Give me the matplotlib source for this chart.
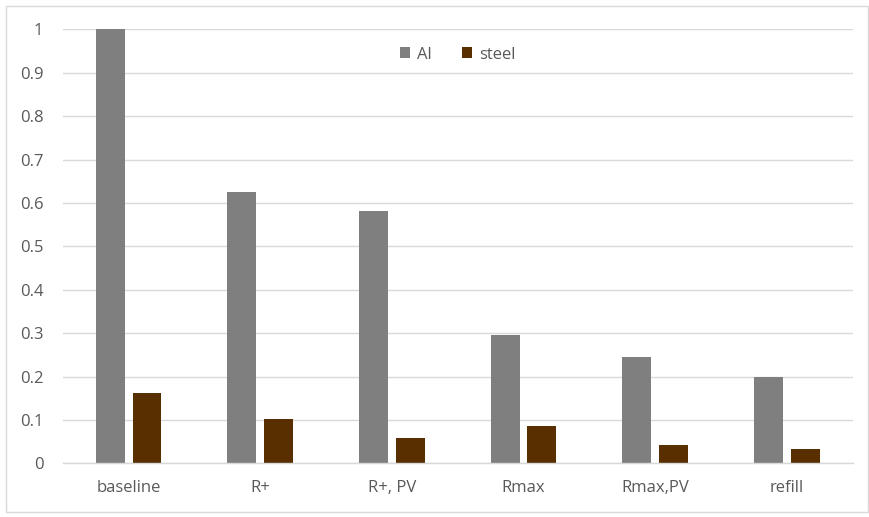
import matplotlib.pyplot as plt
import numpy as np
from matplotlib.patches import Rectangle

# data
categories = ['baseline', 'R+', 'R+, PV', 'Rmax', 'Rmax,PV', 'refill']
al_values = [1.0, 0.625, 0.582, 0.296, 0.245, 0.199]
steel_values = [0.161, 0.101, 0.059, 0.085, 0.043, 0.032]
y_ticks = [0, 0.1, 0.2, 0.3, 0.4, 0.5, 0.6, 0.7, 0.8, 0.9, 1]
y_tick_labels = ['0', '0.1', '0.2', '0.3', '0.4', '0.5', '0.6', '0.7', '0.8', '0.9', '1']

plt.rcParams['font.family'] = ['Open Sans', 'DejaVu Sans']
text_color = '#595959'
grid_color = '#d9d9d9'
fsize = 12

fig = plt.figure(figsize=(8.69, 5.17), dpi=100)
ax = fig.add_axes([0.0722, 0.1039, 0.909, 0.8393])

# light border round the whole chart
fig.patches.append(Rectangle((5.5 / 869, 5.5 / 517), 862 / 869, 506 / 517,
                             transform=fig.transFigure, fill=False,
                             edgecolor=grid_color, linewidth=1))

x = np.arange(len(categories))
bar_w = 0.22
offset = 0.14
ax.bar(x - offset, al_values, bar_w, color='#7f7f7f', label='Al', zorder=3)
ax.bar(x + offset, steel_values, bar_w, color='#5a2f00', label='steel', zorder=3)

ax.set_xlim(-0.5, len(categories) - 0.5)
ax.set_ylim(0, 1)
ax.set_yticks(y_ticks)
ax.set_yticklabels(y_tick_labels)
ax.set_xticks(x)
ax.set_xticklabels(categories)

ax.tick_params(axis='y', length=0, pad=14, labelsize=fsize, labelcolor=text_color)
ax.tick_params(axis='x', length=0, pad=12, labelsize=fsize, labelcolor=text_color)

for s in ['top', 'right', 'left']:
    ax.spines[s].set_visible(False)
ax.spines['bottom'].set_color(grid_color)
ax.spines['bottom'].set_linewidth(1)
ax.spines['bottom'].set_zorder(4)

ax.grid(axis='y', color=grid_color, linewidth=1, zorder=0)
ax.set_axisbelow(True)

leg = ax.legend(loc='center', bbox_to_anchor=(0.5, 0.942), ncol=2, frameon=False,
                handlelength=0.6, handleheight=0.6, handletextpad=0.45,
                columnspacing=1.8, fontsize=fsize)
for t in leg.get_texts():
    t.set_color(text_color)

fig.savefig('out.png', dpi=100)
